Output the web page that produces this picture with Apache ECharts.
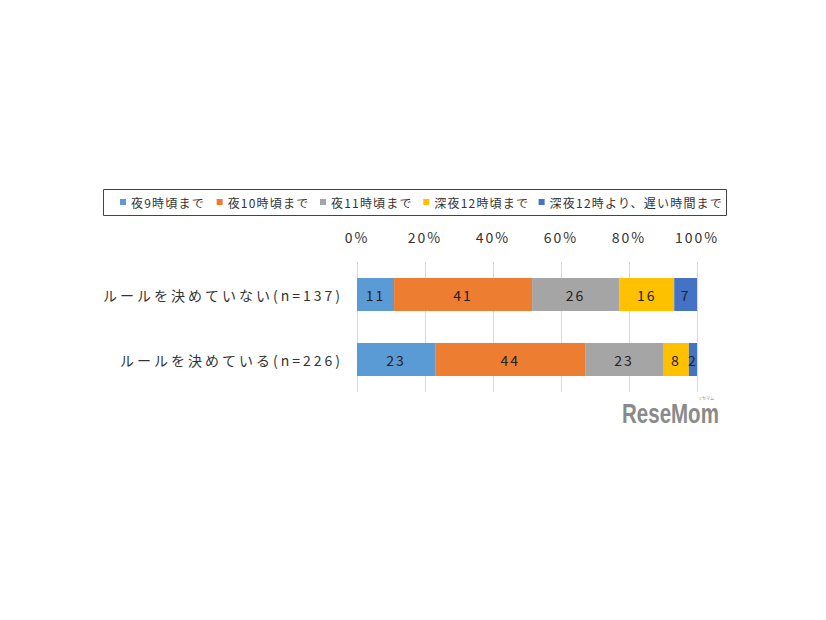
<!DOCTYPE html>
<html><head><meta charset="utf-8">
<script src="https://cdn.jsdelivr.net/npm/echarts@6/dist/echarts.min.js"></script>
<style>html,body{margin:0;padding:0;background:#fff}#c{width:826px;height:620px}</style>
</head><body><div id="c"></div>
<script>
const categories = ['ルールを決めていない(n=137)', 'ルールを決めている(n=226)'];
const seriesNames = ['夜9時頃まで', '夜10時頃まで', '夜11時頃まで', '深夜12時頃まで', '深夜12時より、遅い時間まで'];
const s1 = [10.9, 23.0];
const s2 = [40.6, 44.1];
const s3 = [25.6, 22.9];
const s4 = [16.2, 7.6];
const s5 = [6.8, 2.4];
const tickLabels = ['0%', '20%', '40%', '60%', '80%', '100%'];
const colors = ['#5B9BD5', '#ED7D31', '#A5A5A5', '#FFC000', '#4472C4'];
const values = [s1, s2, s3, s4, s5];
const FONT = '"Noto Sans CJK JP", sans-serif';

const chart = echarts.init(document.getElementById('c'), null, { renderer: 'svg' });
chart.setOption({
  animation: false,
  textStyle: { fontFamily: FONT },
  graphic: [
    { type: 'rect', shape: { x: 103.5, y: 189.5, width: 623, height: 26 }, style: { fill: 'none', stroke: '#444', lineWidth: 1 } },
    { type: 'text', x: 622, y: 400, scaleX: 0.76, style: { text: 'ReseMom', fill: '#8a8a8a', font: 'bold 27px "Liberation Sans", sans-serif' } },
    { type: 'text', x: 698, y: 396, style: { text: 'リセマム', fill: '#8a8a8a', font: '4px "Noto Sans CJK JP", sans-serif' } }
  ],
  legend: {
    top: 191, left: 115,
    icon: 'rect', itemWidth: 6, itemHeight: 6, itemGap: 19,
    textStyle: { fontSize: 12, color: '#333', fontFamily: FONT },
    data: seriesNames
  },
  grid: { left: 357, right: 129, top: 262, bottom: 228 },
  xAxis: {
    type: 'value', position: 'top', min: 0, max: 100, interval: 20,
    axisLine: { show: false }, axisTick: { show: false },
    splitLine: { lineStyle: { color: '#d9d9d9' } },
    axisLabel: { margin: 18, fontSize: 14, color: '#333', fontFamily: FONT,
      formatter: function (v) { return tickLabels[Math.round(v / 20)]; } }
  },
  yAxis: {
    type: 'category', inverse: true, data: categories,
    axisLine: { show: false }, axisTick: { show: false },
    axisLabel: { margin: 14, fontSize: 14, color: '#333', fontFamily: FONT }
  },
  series: values.map((d, i) => ({
    name: seriesNames[i], type: 'bar', stack: 'total', data: d,
    barWidth: 33,
    itemStyle: { color: colors[i] },
    label: { show: true, position: 'inside', fontSize: 14, color: '#222', fontFamily: FONT,
      formatter: p => Math.round(p.value) }
  }))
});

function applySpacing() {
  document.querySelectorAll('#c text').forEach(t => {
    const fs = parseFloat(getComputedStyle(t).fontSize) || 12;
    const txt = t.textContent || '';
    let ls = 0;
    if (fs >= 11 && fs < 13) ls = 1.2;
    else if (fs >= 13 && fs < 16) ls = /^[\x00-\x7F]*$/.test(txt) ? 2 : 3;
    t.style.letterSpacing = ls + 'px';
  });
}
applySpacing();
chart.on('finished', applySpacing);
</script></body></html>
